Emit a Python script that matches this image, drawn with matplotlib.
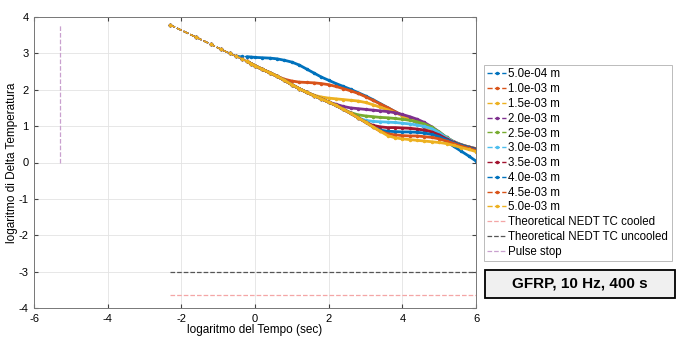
import matplotlib
matplotlib.use("Agg")
import matplotlib.pyplot as plt
from matplotlib.patches import Rectangle

plt.rcParams["font.family"] = ["Liberation Sans", "DejaVu Sans"]
plt.rcParams["axes.unicode_minus"] = False

# log(t) dei campioni (t in secondi)
log_t = [-2.30, -1.61, -1.20, -0.92, -0.69, -0.51, -0.36, -0.22, -0.11,
         0.0, 0.2, 0.4, 0.6, 0.8, 1.0, 1.2, 1.4, 1.6, 1.8,
         2.0, 2.2, 2.4, 2.6, 2.8, 3.0, 3.2, 3.4, 3.6, 3.8,
         4.0, 4.2, 4.4, 4.6, 4.8, 5.0, 5.2, 5.4, 5.6, 5.8, 6.0]

# tratto comune: x < 0 e x = 0.0 ... 3.4
early = [3.78, 3.45, 3.25, 3.11, 3.00, 2.92, 2.85, 2.78, 2.72]
base_pos = [2.66, 2.56, 2.47, 2.37, 2.26, 2.14, 2.03, 1.93, 1.84, 1.75,
            1.66, 1.57, 1.46, 1.35, 1.23, 1.11, 0.98, 0.86]

labels = ["5.0e-04 m", "1.0e-03 m", "1.5e-03 m", "2.0e-03 m", "2.5e-03 m",
          "3.0e-03 m", "3.5e-03 m", "4.0e-03 m", "4.5e-03 m", "5.0e-03 m"]

d05 = early[:5] + [2.94, 2.92, 2.91, 2.90,
                   2.89, 2.88, 2.87, 2.85, 2.81, 2.76, 2.68, 2.57, 2.46, 2.35,
                   2.26, 2.17, 2.09, 2.01, 1.92, 1.83, 1.73, 1.62, 1.51, 1.40,
                   1.29, 1.19, 1.09, 0.97, 0.84, 0.71, 0.57, 0.44, 0.31, 0.18,
                   0.04]
d10 = early + base_pos[:4] + [2.29, 2.24, 2.21, 2.20, 2.19, 2.17, 2.14, 2.09,
                              2.03, 1.97, 1.90, 1.81, 1.71, 1.61, 1.51, 1.40,
                              1.30, 1.20, 1.10, 0.99, 0.87, 0.75, 0.63, 0.54,
                              0.47, 0.41, 0.35]
d15 = early + base_pos[:8] + [1.85, 1.80, 1.77, 1.75, 1.73, 1.71, 1.69, 1.65,
                              1.59, 1.52, 1.45, 1.37, 1.29, 1.20, 1.11, 1.00,
                              0.88, 0.76, 0.64, 0.54, 0.46, 0.39, 0.32]
d20 = early + base_pos[:11] + [1.60, 1.54, 1.50, 1.48, 1.46, 1.44, 1.42, 1.40,
                               1.37, 1.32, 1.26, 1.19, 1.10, 0.98, 0.84, 0.69,
                               0.57, 0.49, 0.43, 0.38]
d25 = early + base_pos[:13] + [1.37, 1.31, 1.28, 1.26, 1.24, 1.23, 1.21, 1.19,
                               1.16, 1.12, 1.06, 0.97, 0.84, 0.69, 0.57, 0.49,
                               0.43, 0.38]
d30 = early + base_pos[:15] + [1.16, 1.13, 1.12, 1.11, 1.10, 1.08, 1.06, 1.03,
                               0.99, 0.93, 0.82, 0.68, 0.56, 0.48, 0.42, 0.37]
d35 = early + base_pos[:16] + [1.02, 0.98, 0.96, 0.96, 0.95, 0.94, 0.92, 0.89,
                               0.84, 0.76, 0.65, 0.55, 0.48, 0.42, 0.37]
d40 = early + base_pos[:17] + [0.89, 0.86, 0.85, 0.84, 0.84, 0.83, 0.81, 0.77,
                               0.71, 0.62, 0.54, 0.47, 0.41, 0.35]
d45 = early + base_pos[:18] + [0.79, 0.76, 0.74, 0.73, 0.73, 0.71, 0.69, 0.65,
                               0.59, 0.52, 0.45, 0.39, 0.33]
d50 = early + base_pos[:18] + [0.74, 0.68, 0.65, 0.63, 0.61, 0.59, 0.57, 0.55,
                               0.52, 0.47, 0.41, 0.36, 0.30]
curves = [d05, d10, d15, d20, d25, d30, d35, d40, d45, d50]

nedt_cooled = -3.65
nedt_uncooled = -3.0
nedt_x = [-2.30, 6.0]
pulse_stop = -5.30
pulse_y = [0.0, 3.8]

matlab = ["#0072BD", "#D95319", "#EDB120", "#7E2F8E", "#77AC30",
          "#4DBEEE", "#A2142F", "#0072BD", "#D95319", "#EDB120"]

fig = plt.figure(figsize=(6.77, 3.37), dpi=100)
ax = fig.add_axes([34 / 677, 29 / 337, 442 / 677, 291 / 337])

for y, lab, c in zip(curves, labels, matlab):
    ax.plot(log_t, y, "--", color=c, lw=1.0, marker=".", ms=3, label=lab)
    ax.plot(log_t[7:], y[7:], "-", color=c, lw=2.0, solid_capstyle="round")

ax.plot(nedt_x, [nedt_cooled] * 2, "--", color="#F4A6A6", lw=0.9,
        label="Theoretical NEDT TC cooled")
ax.plot(nedt_x, [nedt_uncooled] * 2, "--", color="#555555", lw=0.9,
        label="Theoretical NEDT TC uncooled")
ax.plot([pulse_stop] * 2, pulse_y, "--", color="#C9A0CF", lw=0.9,
        label="Pulse stop")

ax.set_xlim(-6, 6)
ax.set_ylim(-4, 4)
ax.set_xticks(range(-6, 7, 2))
ax.set_yticks(range(-4, 5))
ax.grid(True, color="#E3E3E3", lw=0.6)
ax.set_axisbelow(True)
ax.tick_params(direction="in", length=3, top=True, right=True,
               labelsize=8, color="#444444")
ax.tick_params(axis="x", pad=4)
ax.tick_params(axis="y", pad=4)
for s in ax.spines.values():
    s.set_color("#777777")
    s.set_linewidth(0.7)

ax.set_xlabel("logaritmo del Tempo (sec)", fontsize=8.5, labelpad=0)
ax.set_ylabel("logaritmo di Delta Temperatura", fontsize=8.5, labelpad=0)

leg = fig.legend(loc="upper left", bbox_to_anchor=(484 / 677, 1 - 65 / 337),
                 fontsize=8.3, frameon=True, fancybox=False, edgecolor="#AAAAAA",
                 handlelength=1.6, handletextpad=0.2, labelspacing=0.24,
                 borderpad=0.3, borderaxespad=0, numpoints=1)
leg.get_frame().set_linewidth(0.7)

fig.patches.append(Rectangle((485 / 677, 1 - 298 / 337), 190 / 677, 28 / 337,
                             transform=fig.transFigure, facecolor="#F0F0F0",
                             edgecolor="black", lw=1.3))
fig.text(580 / 677, 1 - 284 / 337, "GFRP, 10 Hz, 400 s", fontsize=11,
         fontweight="bold", ha="center", va="center")

fig.savefig("out.png", dpi=100)
